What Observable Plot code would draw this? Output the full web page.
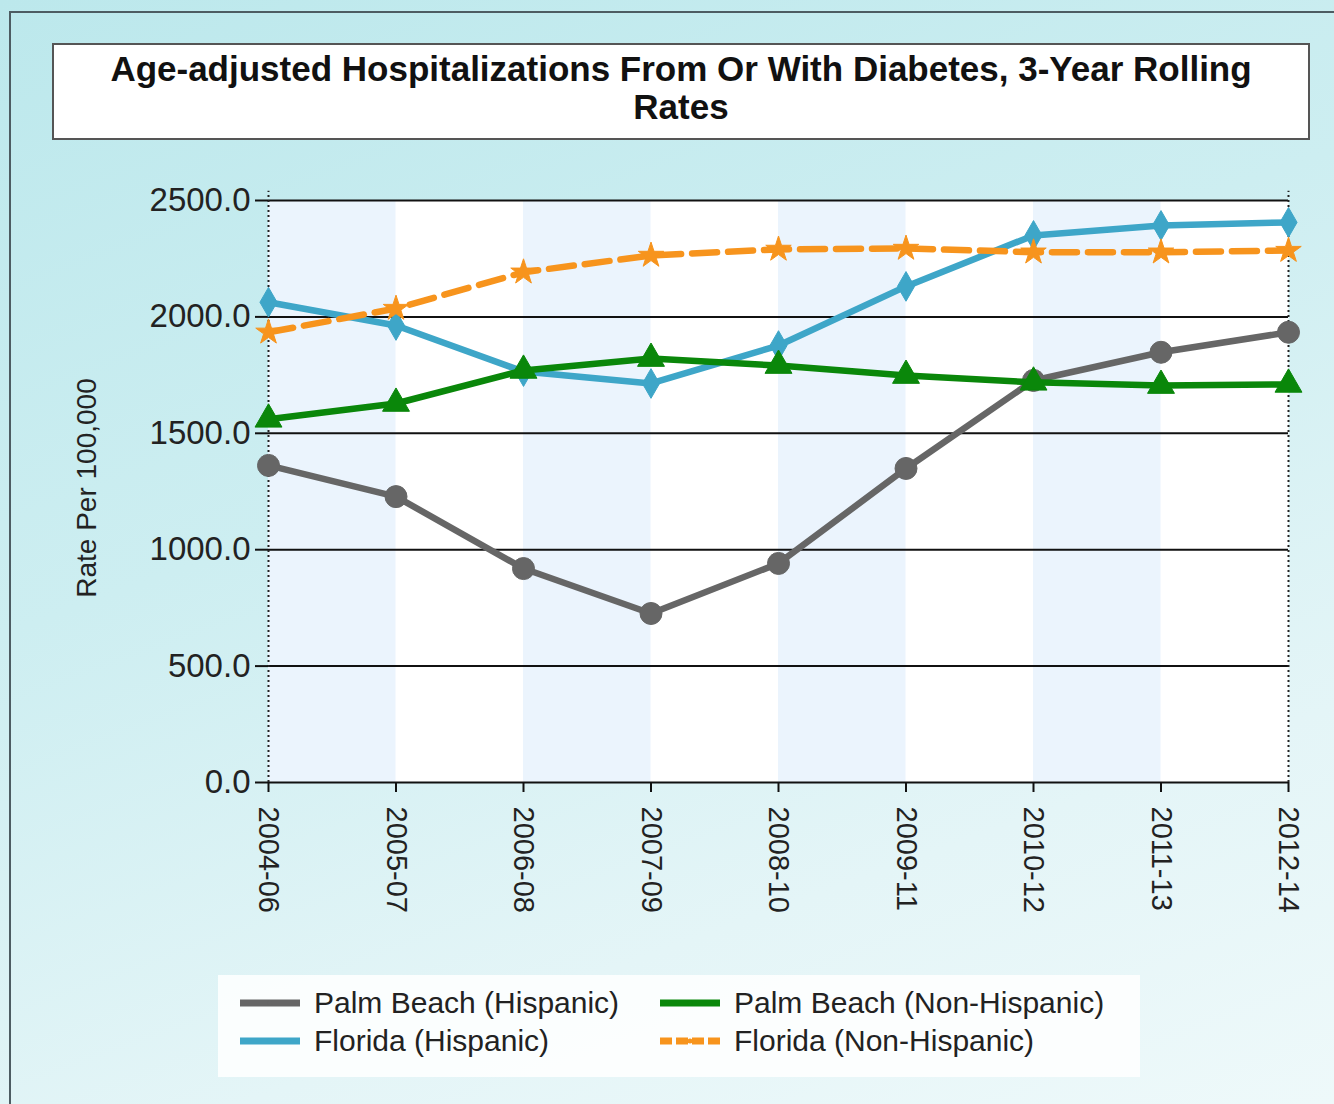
<!DOCTYPE html>
<html>
<head>
<meta charset="utf-8">
<script src="https://cdn.jsdelivr.net/npm/d3@7"></script>
<script src="https://cdn.jsdelivr.net/npm/@observablehq/plot@0.6"></script>
<style>
html,body{margin:0;padding:0;}
body{width:1334px;height:1104px;overflow:hidden;font-family:"Liberation Sans",Arial,sans-serif;}
#page{position:relative;width:1334px;height:1104px;background:linear-gradient(160deg,#bce8ec 0%,#cdeef1 40%,#e4f5f7 75%,#eef9fa 100%);}
#frame{position:absolute;left:9px;top:11px;right:0;bottom:0;border-top:2px solid #4d5c62;border-left:2px solid #4d5c62;}
#title{position:absolute;left:52px;top:43px;width:1258px;height:97px;background:#fff;border:2px solid #555;box-sizing:border-box;text-align:center;font-weight:bold;font-size:35px;line-height:38px;padding-top:5px;color:#111;}
#chart{position:absolute;left:0;top:150px;}
#ytitle{position:absolute;left:87px;top:488px;transform:translate(-50%,-50%) rotate(-90deg);white-space:nowrap;font-size:28px;color:#222;}
#legend{position:absolute;left:218px;top:975px;width:922px;height:102px;background:rgba(255,255,255,0.85);}
.item{position:absolute;height:38px;display:flex;align-items:center;font-size:30px;color:#222;white-space:nowrap;}
.item svg{margin-right:14px;}
</style>
</head>
<body>
<div id="page">
  <div id="frame"></div>
  <div id="title">Age-adjusted Hospitalizations From Or With Diabetes, 3-Year Rolling<br>Rates</div>
  <div id="chart"></div>
  <div id="ytitle">Rate Per 100,000</div>
  <div id="legend"></div>
</div>
<script>
// ---- data ----
const periods = ["2004-06","2005-07","2006-08","2007-09","2008-10","2009-11","2010-12","2011-13","2012-14"];
const palmBeachHispanic    = [1362, 1228, 919, 726, 941, 1349, 1727, 1848, 1934];
const floridaHispanic      = [2063, 1963, 1765, 1714, 1877, 2131, 2350, 2393, 2406];
const palmBeachNonHispanic = [1560, 1628, 1770, 1821, 1791, 1748, 1719, 1705, 1710];
const floridaNonHispanic   = [1934, 2036, 2192, 2264, 2290, 2294, 2278, 2278, 2285];
const seriesNames  = ["Palm Beach (Hispanic)", "Florida (Hispanic)", "Palm Beach (Non-Hispanic)", "Florida (Non-Hispanic)"];
const seriesColors = ["#666666", "#3ea6c8", "#0a870a", "#f7941d"];
const seriesSymbols = ["circle", "diamond", "triangle", "star"];
const seriesDash = [null, null, null, "25,11"];
const yTicks = [0, 500, 1000, 1500, 2000, 2500];

const seriesValues = [palmBeachHispanic, floridaHispanic, palmBeachNonHispanic, floridaNonHispanic];
const rows = [];
seriesValues.forEach((vals, s) => vals.forEach((v, i) => rows.push({series: seriesNames[s], i, period: periods[i], value: v})));
const bands = periods.map((p, i) => i).filter(i => i % 2 === 0 && i < periods.length - 1);
const markerSize = [11, 9, 10, 8];

const marks = [
  Plot.frame({fill: "white", stroke: null}),
  Plot.rect(bands, {x1: d => d, x2: d => d + 1, y1: 0, y2: 2500, fill: "#ebf4fd"}),
  Plot.ruleY(yTicks, {stroke: "#111", strokeWidth: 2}),
  Plot.ruleX([0, periods.length - 1], {y1: 0, y2: 2540, stroke: "#222", strokeWidth: 2, strokeDasharray: "2,3"}),
  Plot.axisY({ticks: yTicks, tickFormat: d => d.toFixed(1), tickSize: 13, tickPadding: 5, fontSize: 33, label: null, stroke: "#111", strokeWidth: 2, color: "#222"}),
  Plot.axisX({ticks: d3.range(periods.length), tickFormat: i => periods[i], tickRotate: 90, tickSize: 10, tickPadding: 14, fontSize: 29, label: null, stroke: "#111", strokeWidth: 2, color: "#222"})
];
seriesNames.forEach((name, s) => {
  const data = rows.filter(r => r.series === name);
  marks.push(Plot.line(data, {x: "i", y: "value", stroke: seriesColors[s], strokeWidth: 6.5, strokeDasharray: seriesDash[s] || undefined}));
  marks.push(Plot.dot(data, {x: "i", y: "value", fill: seriesColors[s], stroke: seriesColors[s], strokeWidth: 1, symbol: seriesSymbols[s], r: markerSize[s]}));
});

const chart = Plot.plot({
  width: 1334,
  height: 820,
  marginTop: 50,
  marginBottom: 188,
  marginLeft: 268,
  marginRight: 46,
  style: {background: "transparent", fontFamily: "Liberation Sans, Arial, sans-serif", color: "#222", overflow: "visible"},
  x: {domain: [0, periods.length - 1], axis: null},
  y: {domain: [0, 2500], axis: null, clamp: false},
  marks
});
document.getElementById("chart").appendChild(chart);

// ---- legend ----
const legend = document.getElementById("legend");
const legendOrder = [0, 2, 1, 3];
const legendPos = [[22, 9], [442, 9], [22, 47], [442, 47]];
legendOrder.forEach((s, k) => {
  const div = document.createElement("div");
  div.className = "item";
  div.style.left = legendPos[k][0] + "px";
  div.style.top = legendPos[k][1] + "px";
  const dash = seriesDash[s] ? ` stroke-dasharray="12,4"` : "";
  div.innerHTML = `<svg width="60" height="14"><line x1="0" y1="7" x2="60" y2="7" stroke="${seriesColors[s]}" stroke-width="7"${dash}/><circle cx="30" cy="7" r="2.5" fill="${seriesColors[s]}"/></svg><span>${seriesNames[s]}</span>`;
  legend.appendChild(div);
});
</script>
</body>
</html>
